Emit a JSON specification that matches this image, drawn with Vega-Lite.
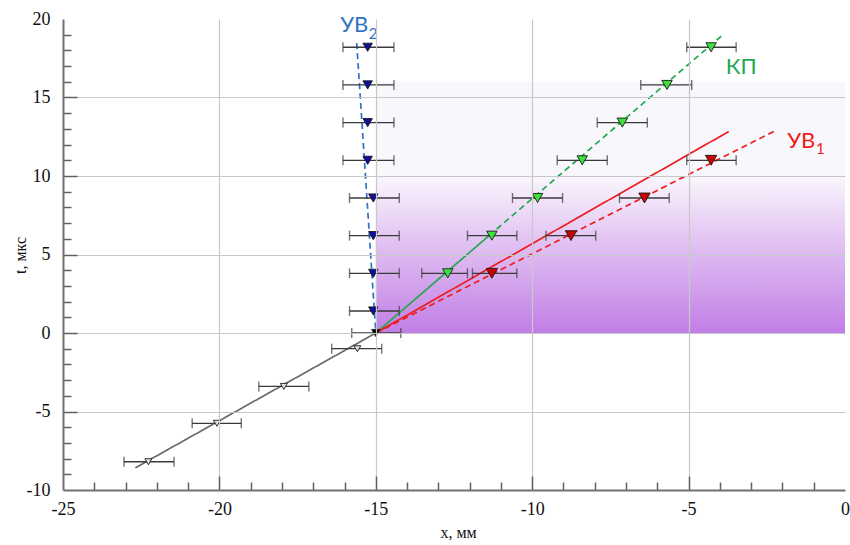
{
  "$schema": "https://vega.github.io/schema/vega-lite/v6.json",
  "width": 782,
  "height": 471,
  "autosize": "none",
  "padding": {"left": 63, "top": 19, "right": 5, "bottom": 55},
  "background": "white",
  "config": {"view": {"stroke": null}, "font": "Liberation Serif"},
  "datasets": {
    "shade": [
      {"part": "low", "x0": -15, "x1": 0, "t0": 0, "t1": 10},
      {"part": "high", "x0": -15, "x1": 0, "t0": 10, "t1": 16}
    ],
    "lines": [
      {"seg": "grayA", "s": "gray", "d": "solid", "x": -22.69, "t": -8.59},
      {"seg": "grayA", "s": "gray", "d": "solid", "x": -15, "t": 0},
      {"seg": "blueA", "s": "blue", "d": "dashed", "x": -15, "t": 0},
      {"seg": "blueA", "s": "blue", "d": "dashed", "x": -15.61, "t": 18.46},
      {"seg": "greenA", "s": "green", "d": "solid", "x": -15, "t": 0},
      {"seg": "greenA", "s": "green", "d": "solid", "x": -11.38, "t": 6.2},
      {"seg": "greenB", "s": "green", "d": "dashed", "x": -11.38, "t": 6.2},
      {"seg": "greenB", "s": "green", "d": "dashed", "x": -3.86, "t": 19.07},
      {"seg": "redA", "s": "red", "d": "solid", "x": -15, "t": 0},
      {"seg": "redA", "s": "red", "d": "solid", "x": -3.72, "t": 12.83},
      {"seg": "redB", "s": "red", "d": "dashed", "x": -15, "t": 0},
      {"seg": "redB", "s": "red", "d": "dashed", "x": -2.18, "t": 12.94}
    ],
    "points": [
      {"g": "gray", "x": -22.27, "t": -8.2, "lo": -23.05, "hi": -21.45},
      {"g": "gray", "x": -20.08, "t": -5.75, "lo": -20.87, "hi": -19.3},
      {"g": "gray", "x": -17.94, "t": -3.4, "lo": -18.74, "hi": -17.14},
      {"g": "gray", "x": -15.59, "t": -1.0, "lo": -16.41, "hi": -14.81},
      {"g": "origin", "x": -15.0, "t": 0, "lo": -15.77, "hi": -14.2},
      {"g": "blue", "x": -15.26, "t": 18.2, "lo": -16.05, "hi": -14.42},
      {"g": "blue", "x": -15.26, "t": 15.8, "lo": -16.05, "hi": -14.42},
      {"g": "blue", "x": -15.26, "t": 13.4, "lo": -16.05, "hi": -14.42},
      {"g": "blue", "x": -15.26, "t": 11.0, "lo": -16.05, "hi": -14.42},
      {"g": "blue", "x": -15.08, "t": 8.6, "lo": -15.84, "hi": -14.25},
      {"g": "blue", "x": -15.08, "t": 6.2, "lo": -15.84, "hi": -14.25},
      {"g": "blue", "x": -15.08, "t": 3.8, "lo": -15.84, "hi": -14.25},
      {"g": "blue", "x": -15.08, "t": 1.4, "lo": -15.84, "hi": -14.25},
      {"g": "green", "x": -12.7, "t": 3.8, "lo": -13.53, "hi": -12.07},
      {"g": "green", "x": -11.29, "t": 6.2, "lo": -12.07, "hi": -10.49},
      {"g": "green", "x": -9.83, "t": 8.6, "lo": -10.63, "hi": -9.03},
      {"g": "green", "x": -8.4, "t": 11.0, "lo": -9.2, "hi": -7.6},
      {"g": "green", "x": -7.12, "t": 13.4, "lo": -7.92, "hi": -6.32},
      {"g": "green", "x": -5.69, "t": 15.8, "lo": -6.53, "hi": -4.9},
      {"g": "green", "x": -4.28, "t": 18.2, "lo": -5.06, "hi": -3.48},
      {"g": "red", "x": -11.29, "t": 3.8, "lo": -11.91, "hi": -10.49},
      {"g": "red", "x": -8.76, "t": 6.2, "lo": -9.56, "hi": -7.97},
      {"g": "red", "x": -6.41, "t": 8.6, "lo": -7.21, "hi": -5.62},
      {"g": "red", "x": -4.28, "t": 11.0, "lo": -5.06, "hi": -3.48}
    ],
    "labels": [
      {"s": "blue", "txt": "УВ", "x": -15.69, "t": 19.62},
      {"s": "green", "txt": "КП", "x": -3.32, "t": 16.95},
      {"s": "red", "txt": "УВ", "x": -1.4, "t": 12.24}
    ],
    "subs": [
      {"s": "blue", "txt": "2", "x": -15.09, "t": 19.05},
      {"s": "red", "txt": "1", "x": -0.79, "t": 11.75}
    ]
  },
  "encoding": {
    "x": {
      "type": "quantitative",
      "scale": {"domain": [-25, 0], "nice": false, "zero": false},
      "axis": {
        "title": "x, мм",
        "titleFont": "Liberation Serif",
        "titleFontSize": 16,
        "titleFontWeight": "normal",
        "titleColor": "#111",
        "titleX": 395,
        "titleY": 42,
        "titleBaseline": "middle",
        "titleAlign": "center",
        "zindex": 1,
        "values": [-25,-24,-23,-22,-21,-20,-19,-18,-17,-16,-15,-14,-13,-12,-11,-10,-9,-8,-7,-6,-5,-4,-3,-2,-1,0],
        "labelExpr": "datum.value % 5 === 0 ? '' + datum.value : ''",
        "labelFont": "Liberation Serif",
        "labelFontSize": 18,
        "labelColor": "#111",
        "labelPadding": 24,
        "labelFlush": false,
        "labelOverlap": false,
        "domainColor": "#707070",
        "domainWidth": 2,
        "tickColor": "#606060",
        "tickWidth": 1.5,
        "tickSize": {"condition": {"test": "datum.value % 5 === 0", "value": -14}, "value": -8},
        "tickOpacity": {"condition": {"test": "datum.value === -25 || datum.value === 0", "value": 0}, "value": 1},
        "grid": true,
        "gridColor": "#c8c8c8",
        "gridWidth": 1.2,
        "gridOpacity": {"condition": {"test": "datum.value % 5 === 0 && datum.value > -25 && datum.value < 0", "value": 1}, "value": 0}
      }
    },
    "y": {
      "type": "quantitative",
      "scale": {"domain": [-10, 20], "nice": false, "zero": false},
      "axis": {
        "title": "t, мкс",
        "titleFont": "Liberation Serif",
        "titleFontSize": 16,
        "titleFontWeight": "normal",
        "titleColor": "#111",
        "titleX": -43,
        "titleY": 236,
        "titleAngle": -90,
        "titleBaseline": "middle",
        "titleAlign": "center",
        "zindex": 1,
        "values": [-10,-9,-8,-7,-6,-5,-4,-3,-2,-1,0,1,2,3,4,5,6,7,8,9,10,11,12,13,14,15,16,17,18,19,20],
        "labelExpr": "datum.value % 5 === 0 ? '' + datum.value : ''",
        "labelFont": "Liberation Serif",
        "labelFontSize": 18,
        "labelColor": "#111",
        "labelPadding": 27,
        "labelFlush": false,
        "labelOverlap": false,
        "domainColor": "#707070",
        "domainWidth": 2,
        "tickColor": "#606060",
        "tickWidth": 1.5,
        "tickSize": {"condition": {"test": "datum.value % 5 === 0", "value": -14}, "value": -8},
        "tickOpacity": {"condition": {"test": "datum.value === -10 || datum.value === 20", "value": 0}, "value": 1},
        "grid": true,
        "gridColor": "#c8c8c8",
        "gridWidth": 1.2,
        "gridOpacity": {"condition": {"test": "datum.value % 5 === 0 && datum.value > -10 && datum.value < 20", "value": 1}, "value": 0}
      }
    }
  },
  "layer": [
    {
      "data": {"name": "shade"},
      "transform": [{"filter": "datum.part === 'low'"}],
      "mark": {
        "type": "rect",
        "fill": {
          "gradient": "linear",
          "x1": 0, "y1": 1, "x2": 0, "y2": 0,
          "stops": [
            {"offset": 0, "color": "#c27ee6"},
            {"offset": 0.5, "color": "#ddb9f0"},
            {"offset": 1, "color": "#faf6fd"}
          ]
        }
      },
      "encoding": {
        "x": {"field": "x0"},
        "x2": {"field": "x1"},
        "y": {"field": "t0"},
        "y2": {"field": "t1"}
      }
    },
    {
      "data": {"name": "shade"},
      "transform": [{"filter": "datum.part === 'high'"}],
      "mark": {"type": "rect", "fill": "#f7f7fc"},
      "encoding": {
        "x": {"field": "x0"},
        "x2": {"field": "x1"},
        "y": {"field": "t0"},
        "y2": {"field": "t1"}
      }
    },
    {
      "data": {"name": "lines"},
      "mark": {"type": "line", "strokeWidth": 1.7},
      "encoding": {
        "x": {"field": "x"},
        "y": {"field": "t"},
        "detail": {"field": "seg"},
        "color": {
          "field": "s", "type": "nominal", "legend": null,
          "scale": {"domain": ["gray", "blue", "green", "red"], "range": ["#6a6a6a", "#2f72c4", "#22a850", "#ee1c1c"]}
        },
        "strokeDash": {
          "field": "d", "type": "nominal", "legend": null,
          "scale": {"domain": ["solid", "dashed"], "range": [[1, 0], [6, 4]]}
        }
      }
    },
    {
      "data": {"name": "points"},
      "mark": {"type": "rule", "color": "#3a3a3a", "strokeWidth": 1.3},
      "encoding": {
        "x": {"field": "lo"},
        "x2": {"field": "hi"},
        "y": {"field": "t"}
      }
    },
    {
      "data": {"name": "points"},
      "mark": {"type": "tick", "orient": "vertical", "color": "#3a3a3a", "size": 10, "thickness": 1.4},
      "encoding": {
        "x": {"field": "lo"},
        "y": {"field": "t"}
      }
    },
    {
      "data": {"name": "points"},
      "mark": {"type": "tick", "orient": "vertical", "color": "#3a3a3a", "size": 10, "thickness": 1.4},
      "encoding": {
        "x": {"field": "hi"},
        "y": {"field": "t"}
      }
    },
    {
      "data": {"name": "points"},
      "mark": {"type": "point", "shape": "triangle-down", "filled": true, "stroke": "#1a1a1a", "strokeWidth": 0.9, "opacity": 1},
      "encoding": {
        "x": {"field": "x"},
        "y": {"field": "t"},
        "fill": {
          "field": "g", "type": "nominal", "legend": null,
          "scale": {"domain": ["gray", "origin", "blue", "green", "red"], "range": ["#e2e2e2", "#000000", "#0e0e9c", "#3ce03c", "#cc0000"]}
        },
        "size": {
          "field": "g", "type": "nominal", "legend": null,
          "scale": {"domain": ["gray", "origin", "blue", "green", "red"], "range": [48, 130, 110, 110, 110]}
        }
      }
    },
    {
      "data": {"name": "labels"},
      "mark": {"type": "text", "font": "Lato", "fontSize": 22, "align": "center", "baseline": "middle"},
      "encoding": {
        "x": {"field": "x"},
        "y": {"field": "t"},
        "text": {"field": "txt"},
        "color": {
          "field": "s", "type": "nominal", "legend": null,
          "scale": {"domain": ["gray", "blue", "green", "red"], "range": ["#6a6a6a", "#1f6fc4", "#22a850", "#ee1c1c"]}
        }
      }
    },
    {
      "data": {"name": "subs"},
      "mark": {"type": "text", "font": "Lato", "fontSize": 15, "align": "center", "baseline": "middle"},
      "encoding": {
        "x": {"field": "x"},
        "y": {"field": "t"},
        "text": {"field": "txt"},
        "color": {
          "field": "s", "type": "nominal", "legend": null,
          "scale": {"domain": ["gray", "blue", "green", "red"], "range": ["#6a6a6a", "#1f6fc4", "#22a850", "#ee1c1c"]}
        }
      }
    }
  ]
}
